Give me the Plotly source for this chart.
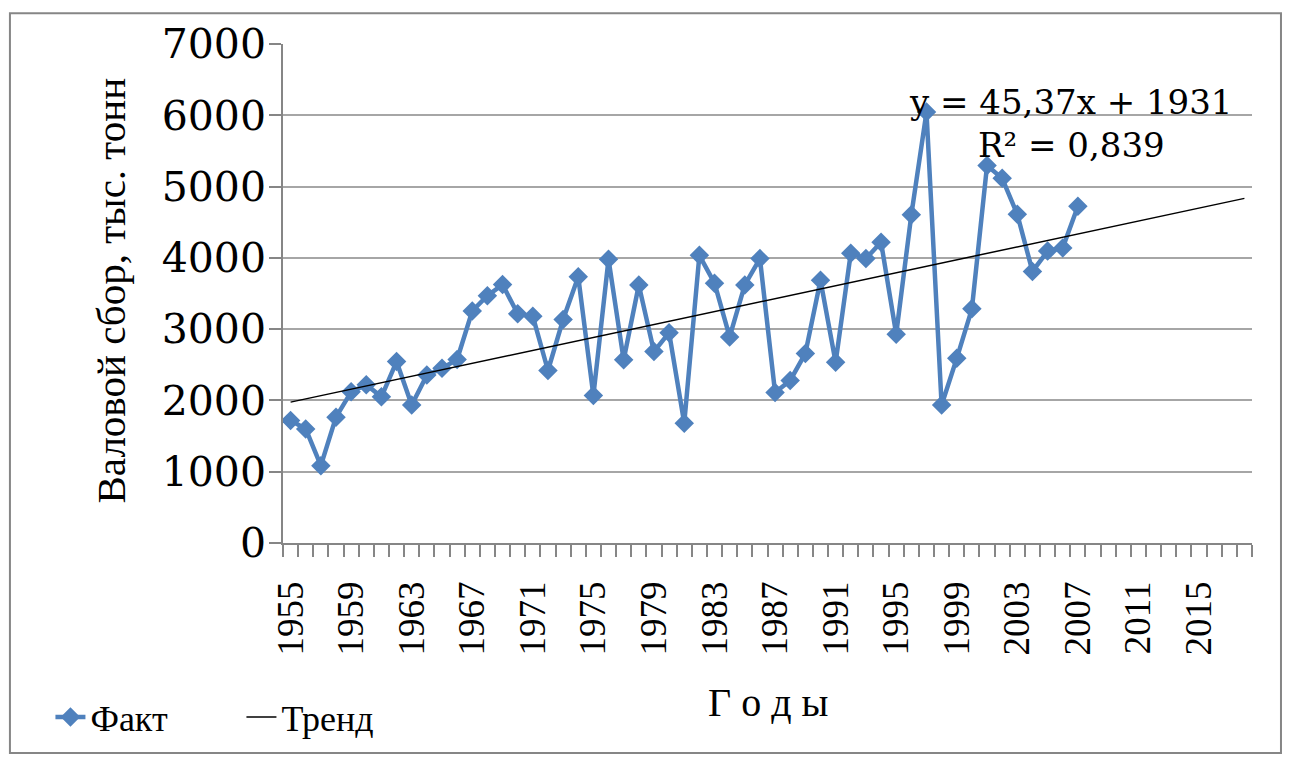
import plotly.graph_objects as go

# ---- data ----
fact_years = list(range(1955, 2008))
fact_values = [1720, 1600, 1085, 1765, 2120, 2220, 2050, 2545, 1935, 2355,
               2450, 2575, 3255, 3470, 3625, 3215, 3180, 2420, 3135, 3735,
               2070, 3980, 2570, 3620, 2685, 2950, 1680, 4035, 3645, 2890,
               3620, 3990, 2110, 2280, 2660, 3685, 2535, 4065, 3990, 4220,
               2930, 4605, 6045, 1935, 2590, 3285, 5295, 5115, 4610, 3810,
               4095, 4140, 4725]
axis_first_year = 1955
axis_last_year = 2018
label_years = list(range(1955, 2016, 4))
trend_slope = 45.37
trend_intercept = 1931
r2_text = "0,839"
y_ticks = [0, 1000, 2000, 3000, 4000, 5000, 6000, 7000]

axis_years = list(range(axis_first_year, axis_last_year + 1))
trend_x = [axis_years[0], axis_years[-1]]
trend_y = [trend_slope * (y - axis_first_year + 1) + trend_intercept for y in trend_x]
boundaries = [y - 0.5 for y in axis_years] + [axis_years[-1] + 0.5]

GRID = "#a6a6a6"
AXC = "#868686"
BLUE = "#4f81bd"
SERIF = "Liberation Serif, Times New Roman, Tinos, DejaVu Serif, serif"
WIDE = "DejaVu Serif"

fig = go.Figure()
fig.add_trace(go.Scatter(
    x=fact_years, y=fact_values, name="Факт", mode="lines+markers",
    line=dict(color=BLUE, width=4.5),
    marker=dict(symbol="diamond", size=15, color=BLUE),
))
fig.add_trace(go.Scatter(
    x=trend_x, y=trend_y, name="Тренд", mode="lines",
    line=dict(color="black", width=1.5),
))

fig.update_layout(
    width=1274, height=751,
    margin=dict(l=275, r=30, t=33, b=214),
    paper_bgcolor="white", plot_bgcolor="white",
    font=dict(family=SERIF, color="black", size=36),
    showlegend=True,
    legend=dict(orientation="h", x=-0.24, y=-0.349, xanchor="left", yanchor="middle",
                font=dict(family=SERIF, size=36, color="black"),
                entrywidth=146, bgcolor="rgba(0,0,0,0)"),
)

fig.update_xaxes(
    range=[boundaries[0], boundaries[-1]],
    tickmode="array", tickvals=label_years, ticktext=[str(y) for y in label_years],
    tickangle=-90, ticks="", ticklabelstandoff=22,
    tickfont=dict(family=SERIF, size=37, color="black"),
    showgrid=False, zeroline=False,
    showline=True, linecolor=AXC, linewidth=1.5,
    minor=dict(tickmode="array", tickvals=boundaries, ticks="outside", ticklen=12,
               tickcolor=AXC, tickwidth=1.5, showgrid=False),
)
fig.update_yaxes(
    range=[0, 7000], tickmode="array", tickvals=y_ticks,
    ticks="outside", ticklen=12, tickcolor=AXC, tickwidth=1.5,
    ticklabelstandoff=-5,
    tickfont=dict(family=WIDE, size=41, color="black"),
    showgrid=True, gridcolor=GRID, gridwidth=1.5,
    zeroline=False, showline=True, linecolor=AXC, linewidth=1.5,
)

# axis titles
fig.add_annotation(text="Валовой сбор, тыс. тонн", xref="paper", yref="paper",
                   x=-0.1775, y=0.506, xanchor="center", yanchor="middle",
                   textangle=-90, showarrow=False,
                   font=dict(family=SERIF, size=41, color="black"))
fig.add_annotation(text="Г о д ы", xref="paper", yref="paper",
                   x=0.5, y=-0.319, xanchor="center", yanchor="middle", showarrow=False,
                   font=dict(family=SERIF, size=40, color="black"))

# trendline equation
fig.add_annotation(text=f"y = {str(trend_slope).replace('.', ',')}x + {trend_intercept}",
                   xref="paper", yref="paper", x=0.8122, y=0.883,
                   xanchor="center", yanchor="middle", showarrow=False,
                   font=dict(family=WIDE, size=34, color="black"))
fig.add_annotation(text=f"R² = {r2_text}",
                   xref="paper", yref="paper", x=0.8142, y=0.7976,
                   xanchor="center", yanchor="middle", showarrow=False,
                   font=dict(family=WIDE, size=34, color="black"))

# outer chart frame
fig.add_shape(type="rect", xref="paper", yref="paper",
              x0=-0.2818, x1=1.0299, y0=-0.4206, y1=1.0615,
              line=dict(color=AXC, width=2), layer="below")

fig.write_html("out.html")
